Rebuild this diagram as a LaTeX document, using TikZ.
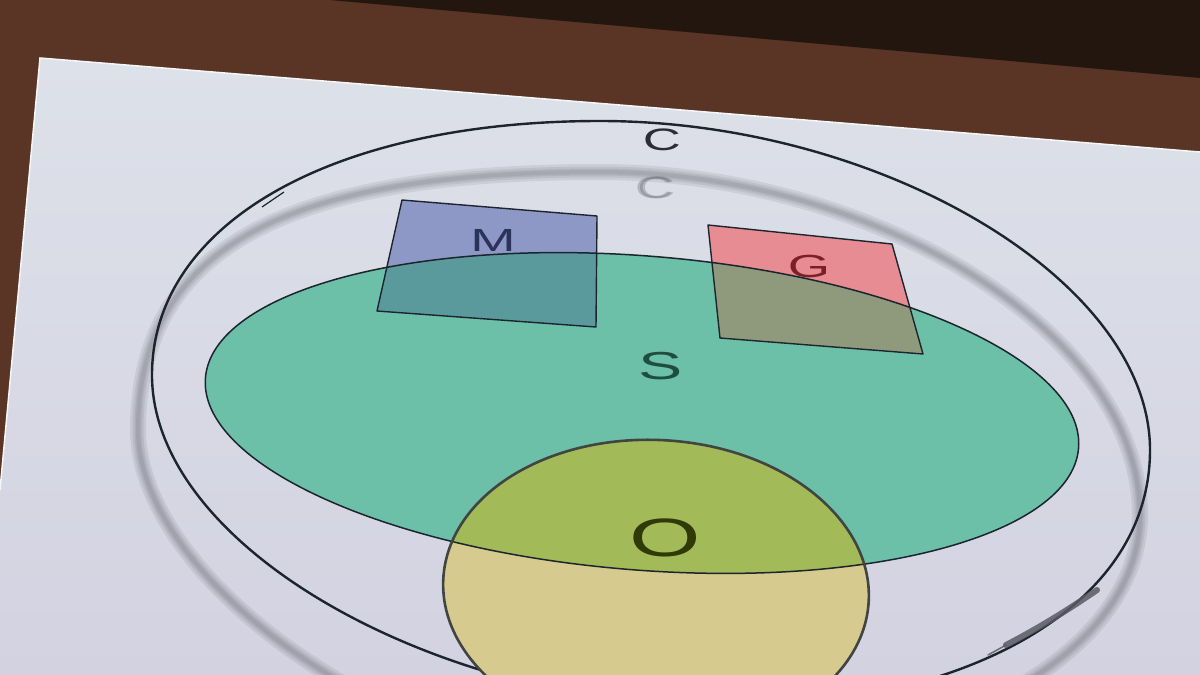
\documentclass[tikz,border=0pt]{standalone}
\usepackage{fontspec}
\setmainfont{Liberation Sans}
\newfontfamily\setfont[FakeStretch=1.7]{Liberation Sans}
\usetikzlibrary{calc}
\definecolor{bgBrown}{RGB}{90,52,36}
\definecolor{bgDark}{RGB}{34,22,15}
\definecolor{slideTop}{RGB}{221,225,233}
\definecolor{slideBot}{RGB}{211,210,225}
\definecolor{lineDark}{RGB}{28,36,46}
\definecolor{ghostGray}{RGB}{90,90,100}
\definecolor{fillS}{RGB}{108,192,168}
\definecolor{fillM}{RGB}{142,152,198}
\definecolor{fillMS}{RGB}{90,154,156}
\definecolor{fillG}{RGB}{231,140,146}
\definecolor{fillGS}{RGB}{143,154,124}
\definecolor{fillO}{RGB}{214,202,142}
\definecolor{fillOS}{RGB}{163,186,88}
\definecolor{textC}{RGB}{42,45,56}
\definecolor{textM}{RGB}{44,51,88}
\definecolor{textG}{RGB}{124,31,38}
\definecolor{textS}{RGB}{30,77,62}
\definecolor{textO}{RGB}{47,58,8}
\tikzset{
    rotS/.style={rotate around={-4.6:(642,413)}},
    rotO/.style={rotate around={-3:(656,590)}},
    setLine/.style={draw=lineDark, line width=1.5pt},
    boxLine/.style={draw=lineDark, line width=1.4pt, line join=round},
    ghostLine/.style={draw=ghostGray, line width=#1, opacity=0.12},
    scribble/.style={draw=ghostGray, line cap=round, opacity=0.85},
    setLabel/.style={inner sep=0pt, font=\setfont\fontsize{#1}{#1}\selectfont},
}
% outline of C and of its shadow, as seen from below
\newcommand{\pathC}{(600,121) .. controls (880,121) and (1150,280) .. (1150,450) .. controls (1150,610) and (960,708) .. (720,708) .. controls (430,704) and (152,545) .. (152,375) .. controls (152,225) and (330,121) .. cycle}
\newcommand{\pathGhost}{(600,172) .. controls (870,172) and (1140,330) .. (1140,515) .. controls (1140,660) and (930,770) .. (650,770) .. controls (400,770) and (138,580) .. (138,430) .. controls (138,240) and (300,172) .. cycle}
\newcommand{\ellS}{(642,413) ellipse [x radius=438, y radius=157]}
\newcommand{\ellO}{(656,590) ellipse [x radius=213, y radius=150]}
\newcommand{\drawSetBox}[3]{
    % the part outside S
    \fill[#2] (#1a) -- (#1b) -- (#1c) -- (#1d) -- cycle;
    % the part inside S
    \begin{scope}
        \clip[rotS] \ellS;
        \fill[#3] (#1a) -- (#1b) -- (#1c) -- (#1d) -- cycle;
    \end{scope}
    \draw[boxLine] (#1a) -- (#1b) -- (#1c) -- (#1d) -- cycle;
}

\begin{document}
\begin{tikzpicture}[x=1pt, y=-1pt]
    \useasboundingbox (0,0) rectangle (1200,675);

    % room and slide
    \fill[bgBrown] (0,0) rectangle (1200,675);
    \fill[bgDark] (330,0) -- (1200,0) -- (1200,78) -- cycle;
    \shade[top color=slideTop, bottom color=slideBot] (40,58) -- (1200,152) -- (1200,675) -- (0,675) -- (0,490) -- cycle;
    \draw[white!70!slideTop, line width=1.5pt] (0,490) -- (40,58) -- (1200,152);

    % blurred shadow of C
    \foreach \w in {16,11,7,4}{
        \draw[ghostLine=\w pt] \pathGhost;
    }
    \foreach \w in {0,2.5}{
        \node[setLabel=31, text=ghostGray, opacity=0.3] at (654+\w,188) {C};
    }

    % C
    \draw[draw=lineDark, line width=2.4pt] \pathC;
    \draw[draw=lineDark, line width=1.2pt] (262,207) -- (284,192);
    \draw[scribble, line width=6pt] (1097,590) .. controls (1065,612) and (1035,630) .. (1006,645);
    \draw[scribble, line width=1.5pt] (1006,645) -- (988,655);
    \node[setLabel=31, text=textC] (labC) at (662,140) {C};

    % S
    \fill[fillS, rotS] \ellS;

    % M and G
    \coordinate (Ma) at (402,200);
    \coordinate (Mb) at (597,216);
    \coordinate (Mc) at (596,327);
    \coordinate (Md) at (377,311);
    \coordinate (Ga) at (708,225);
    \coordinate (Gb) at (892,244);
    \coordinate (Gc) at (923,354);
    \coordinate (Gd) at (720,338);
    \drawSetBox{M}{fillM}{fillMS}
    \drawSetBox{G}{fillG}{fillGS}

    % O
    \fill[fillO, rotO] \ellO;
    \begin{scope}
        \clip[rotS] \ellS;
        \fill[fillOS, rotO] \ellO;
    \end{scope}
    \draw[setLine, rotS] \ellS;
    \draw[draw=lineDark!80!fillO, line width=2.6pt, rotO] \ellO;

    % labels
    \node[setLabel=32, text=textM] (labM) at (493,240) {M};
    \node[setLabel=32, text=textG] (labG) at (809,266) {G};
    \node[setLabel=39, text=textS] (labS) at (661,366) {S};
    \node[setLabel=54, text=textO] (labO) at (665,538) {O};

\end{tikzpicture}
\end{document}
